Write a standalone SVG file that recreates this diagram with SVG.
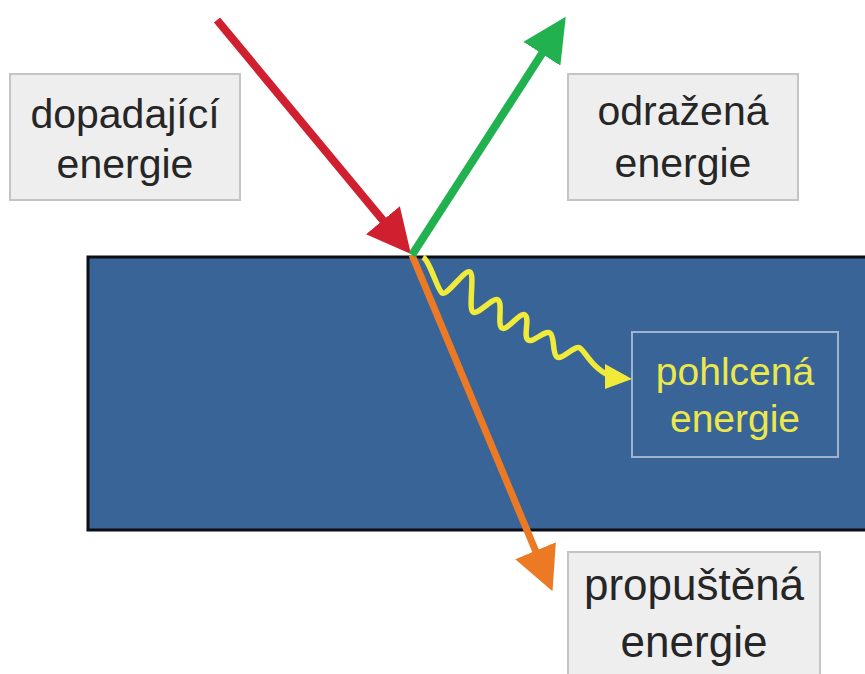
<svg xmlns="http://www.w3.org/2000/svg" width="865" height="674" viewBox="0 0 865 674">
<style>
.box{fill:#eeeeee;stroke:#c4c4c4;stroke-width:2}
.lbl{font-family:"Liberation Sans",Arial,sans-serif;fill:#262626;text-anchor:middle}
.ylbl{font-family:"Liberation Sans",Arial,sans-serif;fill:#ece84c;text-anchor:middle}
.arr{fill:none;stroke-linecap:butt}
</style>
<defs>
<marker id="hr" markerUnits="userSpaceOnUse" orient="auto" markerWidth="44" markerHeight="44" refX="12" refY="21" viewBox="0 0 42 42"><path d="M0,0 L42,21 L0,42 z" fill="#d01f2e"/></marker>
<marker id="hg" markerUnits="userSpaceOnUse" orient="auto" markerWidth="44" markerHeight="44" refX="12" refY="21" viewBox="0 0 42 42"><path d="M0,0 L42,21 L0,42 z" fill="#22b14f"/></marker>
<marker id="ho" markerUnits="userSpaceOnUse" orient="auto" markerWidth="44" markerHeight="44" refX="12" refY="21" viewBox="0 0 42 42"><path d="M0,0 L42,21 L0,42 z" fill="#ec7a24"/></marker>
</defs>
<rect width="865" height="674" fill="#ffffff"/>
<g id="material"><rect x="88" y="257" width="790" height="273" fill="#386497" stroke="#0d0d14" stroke-width="3"/></g>
<g id="dopadajici">
<rect class="box" x="10" y="74" width="230" height="126"/>
<text class="lbl" x="125" y="128" font-size="41">dopadající</text>
<text class="lbl" x="125" y="178" font-size="41">energie</text>
</g>
<g id="odrazena">
<rect class="box" x="568" y="74" width="230" height="126"/>
<text class="lbl" x="683" y="125" font-size="41">odražená</text>
<text class="lbl" x="683" y="177" font-size="41">energie</text>
</g>
<g id="propustena">
<rect class="box" x="568" y="552" width="252" height="140"/>
<text class="lbl" x="694" y="600" font-size="44">propuštěná</text>
<text class="lbl" x="694" y="657" font-size="44">energie</text>
</g>
<g id="pohlcena">
<rect x="632" y="332" width="206" height="125" fill="none" stroke="#9fb4cc" stroke-width="2"/>
<text class="ylbl" x="735" y="385" font-size="39">pohlcená</text>
<text class="ylbl" x="735" y="432" font-size="39">energie</text>
</g>
<g id="connectors">
<path class="arr" stroke="#f0ea3a" stroke-width="5.5" stroke-linejoin="round" d="M423,257 C430,261 437,289 442,293 C447,296.3 465,268.7 470,272 C475,275.3 468,308.7 473,312 C478,315.3 493,296.7 498,300 C503,303.3 497,324.7 502,328 C507,331.3 520,311.7 525,315 C530,318.3 523,336.7 528,340 C533,343.3 545,329.7 550,333 C555,336.3 552,353.7 557,357 C562,360.3 575,344.7 580,348 C585,351.3 592,368 610,376"/>
<polygon points="605,364 605,389 632,379" fill="#f0ea3a"/>
<line class="arr" x1="412" y1="255" x2="540.4" y2="562.3" stroke="#ec7a24" stroke-width="7" marker-end="url(#ho)"/>
<line class="arr" x1="217" y1="20" x2="390.9" y2="229.9" stroke="#d01f2e" stroke-width="8" marker-end="url(#hr)"/>
<line class="arr" x1="412" y1="255" x2="548.7" y2="43.2" stroke="#22b14f" stroke-width="8" marker-end="url(#hg)"/>
</g>
</svg>
